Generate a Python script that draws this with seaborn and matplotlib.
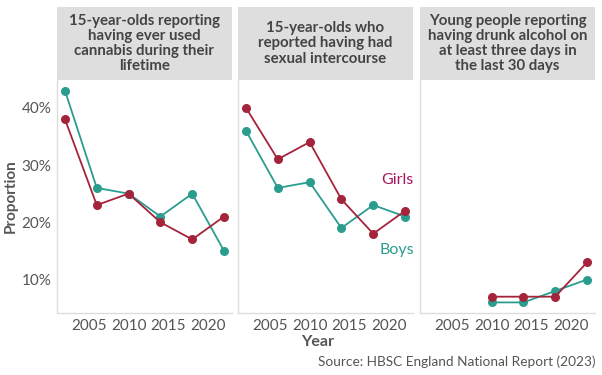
import pandas as pd
import seaborn as sns
import matplotlib.pyplot as plt
from matplotlib.patches import Rectangle
from matplotlib.ticker import PercentFormatter

# data (percent)
years = [2002, 2006, 2010, 2014, 2018, 2022]
alcohol_years = [2010, 2014, 2018, 2022]

cannabis_boys = [43, 26, 25, 21, 25, 15]
cannabis_girls = [38, 23, 25, 20, 17, 21]
sex_boys = [36, 26, 27, 19, 23, 21]
sex_girls = [40, 31, 34, 24, 18, 22]
alcohol_boys = [6, 6, 8, 10]
alcohol_girls = [7, 7, 7, 13]

panel_titles = [
    "15-year-olds reporting\nhaving ever used\ncannabis during their\nlifetime",
    "15-year-olds who\nreported having had\nsexual intercourse",
    "Young people reporting\nhaving drunk alcohol on\nat least three days in\nthe last 30 days",
]

BOYS = "#2a9d8f"
GIRLS = "#a4243b"
GIRLS_LABEL = "#a8175e"
TXT = "#555555"


def make_frame(yrs, boys, girls):
    rows = [(y, v, "Boys") for y, v in zip(yrs, boys)]
    rows += [(y, v, "Girls") for y, v in zip(yrs, girls)]
    return pd.DataFrame(rows, columns=["year", "pct", "sex"])


frames = [
    make_frame(years, cannabis_boys, cannabis_girls),
    make_frame(years, sex_boys, sex_girls),
    make_frame(alcohol_years, alcohol_boys, alcohol_girls),
]

sns.set_style("white")
plt.rcParams["font.family"] = ["Lato", "DejaVu Sans"]

W, H = 602, 375
fig = plt.figure(figsize=(W / 100, H / 100), dpi=100)

lefts = [57, 238, 420]
pw = 175
top, bottom = 80, 313
strip_top = 7

for i, (df, title) in enumerate(zip(frames, panel_titles)):
    ax = fig.add_axes([lefts[i] / W, 1 - bottom / H, pw / W, (bottom - top) / H])
    sns.lineplot(data=df, x="year", y="pct", hue="sex", hue_order=["Boys", "Girls"],
                 palette={"Boys": BOYS, "Girls": GIRLS}, marker="o", markersize=6.5,
                 markeredgewidth=0, linewidth=1.3, legend=False, ax=ax)
    ax.set_xlim(2001, 2023)
    ax.set_ylim(4.15, 44.85)
    ax.set_xticks([2005, 2010, 2015, 2020])
    ax.set_yticks([10, 20, 30, 40])
    ax.yaxis.set_major_formatter(PercentFormatter(decimals=0))
    ax.tick_params(length=0, labelsize=11, colors=TXT, pad=4)
    ax.set_xlabel("")
    ax.set_ylabel("")
    for s in ["top", "right"]:
        ax.spines[s].set_visible(False)
    for s in ["left", "bottom"]:
        ax.spines[s].set_color("#dddddd")
        ax.spines[s].set_linewidth(1.0)
    if i > 0:
        ax.set_yticklabels([])
    if i == 0:
        ax.set_ylabel("Proportion", fontsize=11, fontweight="bold", color=TXT, labelpad=3)
    if i == 1:
        ax.text(2021, 27.3, "Girls", color=GIRLS_LABEL, fontsize=11.5, ha="center", va="center")
        ax.text(2021, 15.1, "Boys", color=BOYS, fontsize=11.5, ha="center", va="center")

    # strip header
    fig.patches.append(Rectangle((lefts[i] / W, 1 - top / H), pw / W, (top - strip_top) / H,
                                 transform=fig.transFigure, facecolor="#dedede",
                                 edgecolor="none", zorder=0))
    fig.text((lefts[i] + pw / 2) / W, 1 - (top + strip_top) / 2 / H, title,
             ha="center", va="center", fontsize=10.8, fontweight="bold",
             color="#444444", linespacing=1.1)

fig.text(318 / W, 1 - 342 / H, "Year", ha="center", va="center", fontsize=11.5,
         fontweight="bold", color=TXT)
fig.text(595 / W, 1 - 362 / H, "Source: HBSC England National Report (2023)",
         ha="right", va="center", fontsize=9.8, color=TXT)

fig.savefig("out.png", dpi=100)
